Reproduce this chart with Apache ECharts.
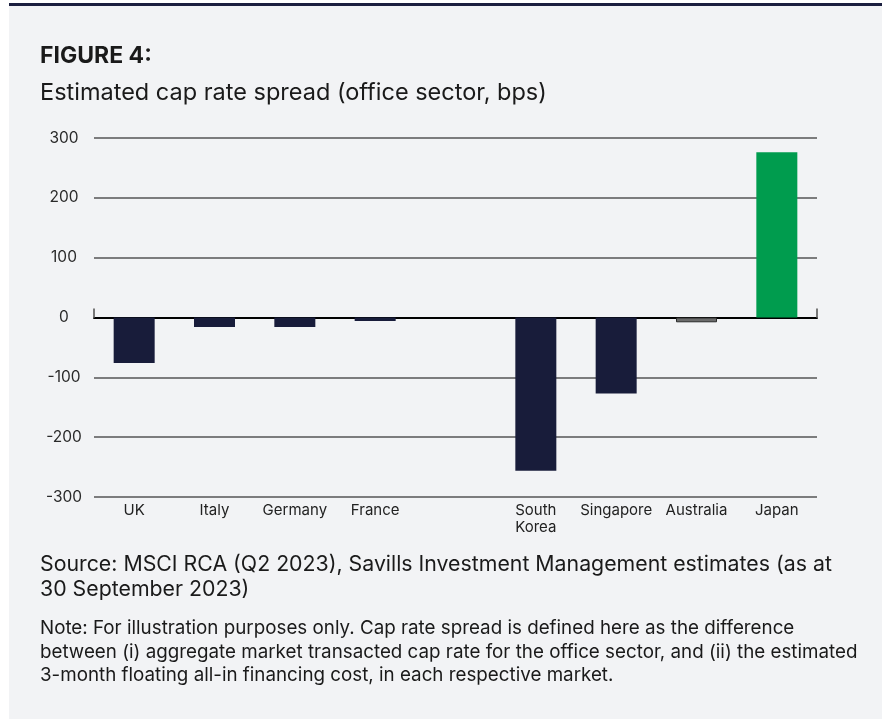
<!DOCTYPE html>
<html>
<head>
<meta charset="utf-8">
<script src="https://cdn.jsdelivr.net/npm/echarts@6/dist/echarts.min.js"></script>
<style>
  html, body { margin: 0; padding: 0; background: #ffffff; }
  #panel { position: absolute; left: 9px; top: 3px; width: 873px; height: 716px; background: #f2f3f5; border-top: 3px solid #1b1f3f; box-sizing: border-box; }
  #chart { position: absolute; left: 0; top: 0; width: 882px; height: 719px; }
</style>
</head>
<body>
<div id="panel"></div>
<div id="chart"></div>
<script>
const categories = ['UK', 'Italy', 'Germany', 'France', '', 'South\nKorea', 'Singapore', 'Australia', 'Japan'];
const spreadBps = [-76, -16, -16, -6, null, -256, -127, -8, 276];
const yTicks = [-300, -200, -100, 0, 100, 200, 300];

const titleText = 'FIGURE 4:';
const subtitleText = 'Estimated cap rate spread (office sector, bps)';
const sourceText = 'Source: MSCI RCA (Q2 2023), Savills Investment Management estimates (as at\n30 September 2023)';
const noteText = 'Note: For illustration purposes only. Cap rate spread is defined here as the difference\nbetween (i) aggregate market transacted cap rate for the office sector, and (ii) the estimated\n3-month floating all-in financing cost, in each respective market.';

const FONT = 'Inter, "Noto Sans", sans-serif';
const NAVY = '#181c3a';
const GREEN = '#009c4e';

const chart = echarts.init(document.getElementById('chart'), null, { renderer: 'canvas' });

const barData = spreadBps.map((v, i) => {
  const name = categories[i];
  if (name === 'Japan') return { value: v, itemStyle: { color: GREEN } };
  if (name === 'Australia') return { value: v, itemStyle: { color: '#6b6b6b', borderColor: '#2a2a2a', borderWidth: 1 } };
  return { value: v, itemStyle: { color: NAVY } };
});

chart.setOption({
  backgroundColor: 'transparent',
  animation: false,
  textStyle: { fontFamily: FONT },
  title: [
    { text: titleText, left: 35, top: 40, textStyle: { fontFamily: FONT, fontSize: 23, fontWeight: 'bold', color: '#1a1a1a' } },
    { text: subtitleText, left: 35, top: 76, textStyle: { fontFamily: FONT, fontSize: 23.5, fontWeight: 'normal', color: '#1a1a1a' } },
    { text: sourceText, left: 35, top: 547, textStyle: { fontFamily: FONT, fontSize: 21.3, lineHeight: 25, fontWeight: 'normal', color: '#1a1a1a' } },
    { text: noteText, left: 35, top: 612, textStyle: { fontFamily: FONT, fontSize: 18.8, lineHeight: 23.5, fontWeight: 'normal', color: '#1a1a1a' } }
  ],
  grid: { left: 94, right: 65, top: 138, bottom: 222, containLabel: false },
  xAxis: [
    {
      type: 'category',
      data: categories,
      position: 'bottom',
      axisLine: { show: false, onZero: false },
      axisTick: { show: false },
      axisLabel: { color: '#222', fontSize: 15, lineHeight: 17, margin: 5, fontFamily: FONT, interval: 0 },
      splitLine: { show: false }
    },
    {
      type: 'value',
      min: 0, max: 1, interval: 1,
      position: 'bottom',
      axisLine: { show: true, onZero: true, lineStyle: { color: '#000', width: 2 } },
      axisTick: { show: true, inside: true, length: 9, lineStyle: { color: '#777', width: 2 } },
      axisLabel: { show: false },
      splitLine: { show: false }
    }
  ],
  yAxis: {
    type: 'value',
    min: yTicks[0], max: yTicks[yTicks.length - 1], interval: 100,
    axisLine: { show: false },
    axisTick: { show: false },
    axisLabel: { color: '#2a2a2a', fontSize: 15.5, align: 'center', margin: 30, fontFamily: FONT },
    splitLine: { show: true, lineStyle: { color: '#555', width: 1.5 } }
  },
  series: [{
    type: 'bar',
    xAxisIndex: 0,
    data: barData,
    barWidth: 41
  }]
});
</script>
</body>
</html>
